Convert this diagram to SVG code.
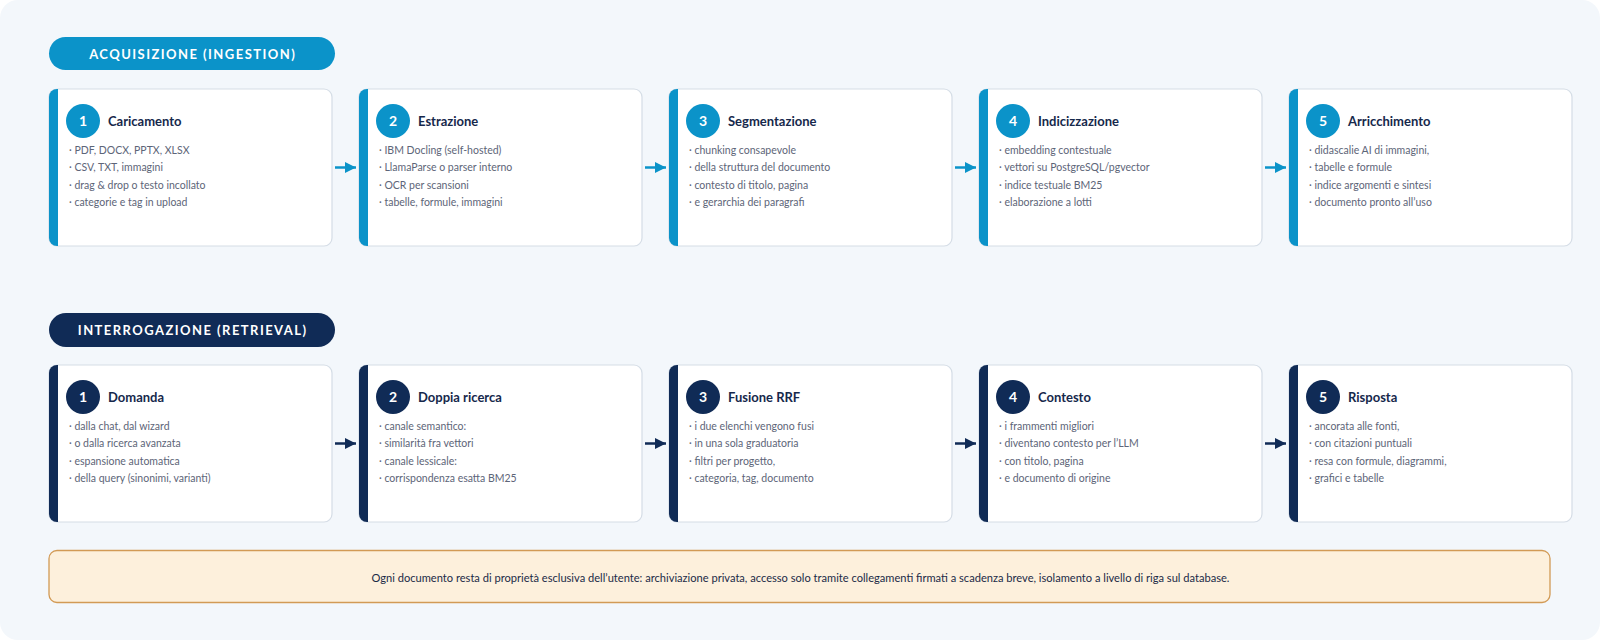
<svg xmlns="http://www.w3.org/2000/svg" width="1600" height="640" viewBox="0 0 1600 640">
<defs>
<style>
.bg{fill:#f3f7fb}
.card{fill:#ffffff;stroke:#d5dde6;stroke-width:1.2}
.ing{fill:#0b93c9}
.ret{fill:#102b56}
.pilltxt{font-family:Lato,"Liberation Sans",sans-serif;font-weight:700;font-size:13px;fill:#ffffff;letter-spacing:1.45px;text-anchor:middle}
.num{font-family:Lato,"Liberation Sans",sans-serif;font-weight:700;font-size:14px;fill:#ffffff;text-anchor:middle}
.title{font-family:Lato,"Liberation Sans",sans-serif;font-weight:700;font-size:13px;fill:#16284b}
.bul{font-family:Lato,"Liberation Sans",sans-serif;font-size:10.5px;fill:#5d6578}
.foot{font-family:Lato,"Liberation Sans",sans-serif;font-size:11.1px;fill:#1b2a47;text-anchor:middle}
.lnI{stroke:#0b93c9;stroke-width:2.5;fill:none}
.lnR{stroke:#102b56;stroke-width:2.5;fill:none}
</style>
<marker id="ahI" markerWidth="12" markerHeight="12" refX="11" refY="6" orient="auto" markerUnits="userSpaceOnUse"><path d="M0,0.5 L11,6 L0,11.5 Z" fill="#0b93c9"/></marker>
<marker id="ahR" markerWidth="12" markerHeight="12" refX="11" refY="6" orient="auto" markerUnits="userSpaceOnUse"><path d="M0,0.5 L11,6 L0,11.5 Z" fill="#102b56"/></marker>
</defs>
<rect class="bg" x="0" y="0" width="1600" height="640" rx="18"/>

<g id="pill-ingestion"><rect class="ing" x="49" y="37" width="286" height="33" rx="16.5"/><text class="pilltxt" x="192.7" y="58.5">ACQUISIZIONE (INGESTION)</text></g>
<g id="pill-retrieval"><rect class="ret" x="49" y="313" width="286" height="34" rx="17"/><text class="pilltxt" x="192.7" y="335">INTERROGAZIONE (RETRIEVAL)</text></g>

<g id="i1"><rect class="card" x="49" y="89" width="283" height="157" rx="8"/><path class="ing" d="M57,89 H58 V246 H57 A8,8 0 0 1 49,238 V97 A8,8 0 0 1 57,89 Z"/><circle class="ing" cx="83" cy="121" r="17"/><text class="num" x="83" y="126">1</text><text class="title" x="108" y="126">Caricamento</text><text class="bul" x="69" y="153.5">· PDF, DOCX, PPTX, XLSX</text><text class="bul" x="69" y="171">· CSV, TXT, immagini</text><text class="bul" x="69" y="188.5">· drag &amp; drop o testo incollato</text><text class="bul" x="69" y="206">· categorie e tag in upload</text></g>
<g id="i2"><rect class="card" x="359" y="89" width="283" height="157" rx="8"/><path class="ing" d="M367,89 H368 V246 H367 A8,8 0 0 1 359,238 V97 A8,8 0 0 1 367,89 Z"/><circle class="ing" cx="393" cy="121" r="17"/><text class="num" x="393" y="126">2</text><text class="title" x="418" y="126">Estrazione</text><text class="bul" x="379" y="153.5">· IBM Docling (self-hosted)</text><text class="bul" x="379" y="171">· LlamaParse o parser interno</text><text class="bul" x="379" y="188.5">· OCR per scansioni</text><text class="bul" x="379" y="206">· tabelle, formule, immagini</text></g>
<g id="i3"><rect class="card" x="669" y="89" width="283" height="157" rx="8"/><path class="ing" d="M677,89 H678 V246 H677 A8,8 0 0 1 669,238 V97 A8,8 0 0 1 677,89 Z"/><circle class="ing" cx="703" cy="121" r="17"/><text class="num" x="703" y="126">3</text><text class="title" x="728" y="126">Segmentazione</text><text class="bul" x="689" y="153.5">· chunking consapevole</text><text class="bul" x="689" y="171">· della struttura del documento</text><text class="bul" x="689" y="188.5">· contesto di titolo, pagina</text><text class="bul" x="689" y="206">· e gerarchia dei paragrafi</text></g>
<g id="i4"><rect class="card" x="979" y="89" width="283" height="157" rx="8"/><path class="ing" d="M987,89 H988 V246 H987 A8,8 0 0 1 979,238 V97 A8,8 0 0 1 987,89 Z"/><circle class="ing" cx="1013" cy="121" r="17"/><text class="num" x="1013" y="126">4</text><text class="title" x="1038" y="126">Indicizzazione</text><text class="bul" x="999" y="153.5">· embedding contestuale</text><text class="bul" x="999" y="171">· vettori su PostgreSQL/pgvector</text><text class="bul" x="999" y="188.5">· indice testuale BM25</text><text class="bul" x="999" y="206">· elaborazione a lotti</text></g>
<g id="i5"><rect class="card" x="1289" y="89" width="283" height="157" rx="8"/><path class="ing" d="M1297,89 H1298 V246 H1297 A8,8 0 0 1 1289,238 V97 A8,8 0 0 1 1297,89 Z"/><circle class="ing" cx="1323" cy="121" r="17"/><text class="num" x="1323" y="126">5</text><text class="title" x="1348" y="126">Arricchimento</text><text class="bul" x="1309" y="153.5">· didascalie AI di immagini,</text><text class="bul" x="1309" y="171">· tabelle e formule</text><text class="bul" x="1309" y="188.5">· indice argomenti e sintesi</text><text class="bul" x="1309" y="206">· documento pronto all’uso</text></g>

<g id="r1"><rect class="card" x="49" y="365" width="283" height="157" rx="8"/><path class="ret" d="M57,365 H58 V522 H57 A8,8 0 0 1 49,514 V373 A8,8 0 0 1 57,365 Z"/><circle class="ret" cx="83" cy="397" r="17"/><text class="num" x="83" y="402">1</text><text class="title" x="108" y="402">Domanda</text><text class="bul" x="69" y="429.5">· dalla chat, dal wizard</text><text class="bul" x="69" y="447">· o dalla ricerca avanzata</text><text class="bul" x="69" y="464.5">· espansione automatica</text><text class="bul" x="69" y="482">· della query (sinonimi, varianti)</text></g>
<g id="r2"><rect class="card" x="359" y="365" width="283" height="157" rx="8"/><path class="ret" d="M367,365 H368 V522 H367 A8,8 0 0 1 359,514 V373 A8,8 0 0 1 367,365 Z"/><circle class="ret" cx="393" cy="397" r="17"/><text class="num" x="393" y="402">2</text><text class="title" x="418" y="402">Doppia ricerca</text><text class="bul" x="379" y="429.5">· canale semantico:</text><text class="bul" x="379" y="447">· similarità fra vettori</text><text class="bul" x="379" y="464.5">· canale lessicale:</text><text class="bul" x="379" y="482">· corrispondenza esatta BM25</text></g>
<g id="r3"><rect class="card" x="669" y="365" width="283" height="157" rx="8"/><path class="ret" d="M677,365 H678 V522 H677 A8,8 0 0 1 669,514 V373 A8,8 0 0 1 677,365 Z"/><circle class="ret" cx="703" cy="397" r="17"/><text class="num" x="703" y="402">3</text><text class="title" x="728" y="402">Fusione RRF</text><text class="bul" x="689" y="429.5">· i due elenchi vengono fusi</text><text class="bul" x="689" y="447">· in una sola graduatoria</text><text class="bul" x="689" y="464.5">· filtri per progetto,</text><text class="bul" x="689" y="482">· categoria, tag, documento</text></g>
<g id="r4"><rect class="card" x="979" y="365" width="283" height="157" rx="8"/><path class="ret" d="M987,365 H988 V522 H987 A8,8 0 0 1 979,514 V373 A8,8 0 0 1 987,365 Z"/><circle class="ret" cx="1013" cy="397" r="17"/><text class="num" x="1013" y="402">4</text><text class="title" x="1038" y="402">Contesto</text><text class="bul" x="999" y="429.5">· i frammenti migliori</text><text class="bul" x="999" y="447">· diventano contesto per l’LLM</text><text class="bul" x="999" y="464.5">· con titolo, pagina</text><text class="bul" x="999" y="482">· e documento di origine</text></g>
<g id="r5"><rect class="card" x="1289" y="365" width="283" height="157" rx="8"/><path class="ret" d="M1297,365 H1298 V522 H1297 A8,8 0 0 1 1289,514 V373 A8,8 0 0 1 1297,365 Z"/><circle class="ret" cx="1323" cy="397" r="17"/><text class="num" x="1323" y="402">5</text><text class="title" x="1348" y="402">Risposta</text><text class="bul" x="1309" y="429.5">· ancorata alle fonti,</text><text class="bul" x="1309" y="447">· con citazioni puntuali</text><text class="bul" x="1309" y="464.5">· resa con formule, diagrammi,</text><text class="bul" x="1309" y="482">· grafici e tabelle</text></g>

<g id="connectors">
<line class="lnI" x1="335" y1="167.5" x2="356" y2="167.5" marker-end="url(#ahI)"/>
<line class="lnI" x1="645" y1="167.5" x2="666" y2="167.5" marker-end="url(#ahI)"/>
<line class="lnI" x1="955" y1="167.5" x2="976" y2="167.5" marker-end="url(#ahI)"/>
<line class="lnI" x1="1265" y1="167.5" x2="1286" y2="167.5" marker-end="url(#ahI)"/>
<line class="lnR" x1="335" y1="443.5" x2="356" y2="443.5" marker-end="url(#ahR)"/>
<line class="lnR" x1="645" y1="443.5" x2="666" y2="443.5" marker-end="url(#ahR)"/>
<line class="lnR" x1="955" y1="443.5" x2="976" y2="443.5" marker-end="url(#ahR)"/>
<line class="lnR" x1="1265" y1="443.5" x2="1286" y2="443.5" marker-end="url(#ahR)"/>
</g>

<g id="footer"><rect x="49" y="550.5" width="1501" height="52" rx="8" fill="#fdf0dc" stroke="#d29a55" stroke-width="1.3"/><text class="foot" x="800.5" y="581.5">Ogni documento resta di proprietà esclusiva dell’utente: archiviazione privata, accesso solo tramite collegamenti firmati a scadenza breve, isolamento a livello di riga sul database.</text></g>
</svg>
